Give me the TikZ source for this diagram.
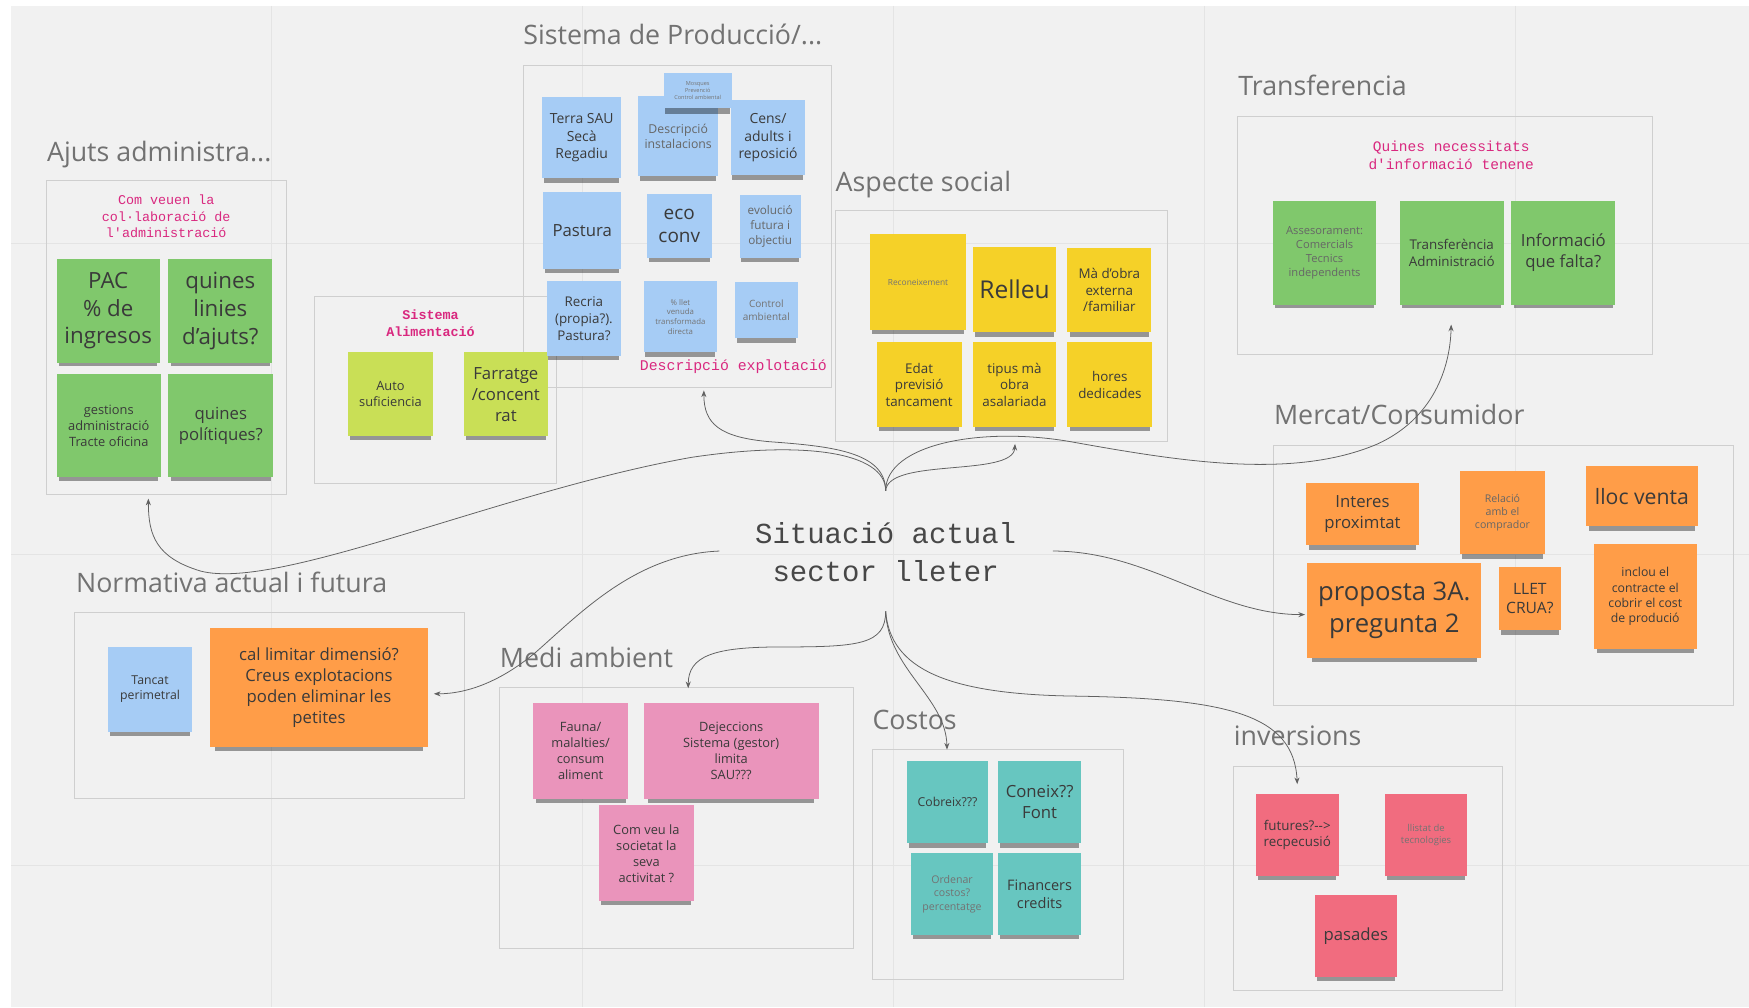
\documentclass[tikz,border=0pt]{standalone}
\usepackage{fontspec}
\setmainfont{Open Sans}
\newfontfamily\monofont{Liberation Mono}
\usetikzlibrary{arrows.meta, shadows}

\definecolor{boardbg}{HTML}{F1F1F1}
\definecolor{gridcol}{HTML}{E4E4E4}
\definecolor{boxline}{HTML}{CFCFCF}
\definecolor{titlecol}{HTML}{727272}
\definecolor{notetxt}{HTML}{3A3A3A}
\definecolor{pinktxt}{HTML}{D9287F}
\definecolor{cGreen}{HTML}{80C86C}
\definecolor{cBlue}{HTML}{A6CCF5}
\definecolor{cYellow}{HTML}{F5D128}
\definecolor{cLime}{HTML}{C9DF56}
\definecolor{cOrange}{HTML}{FF9D48}
\definecolor{cPink}{HTML}{EA94BB}
\definecolor{cTeal}{HTML}{67C6C0}
\definecolor{cRed}{HTML}{F16C7F}

\newcommand\fsz[1]{\fontsize{#1}{\fpeval{1.25*#1}}\selectfont}

\tikzset{
    sticky/.style={inner sep=2pt, align=center, text=notetxt,
        drop shadow={shadow xshift=0pt, shadow yshift=-6pt, shadow scale=0.95, opacity=0.38, fill=black}}, % sticky notes
    wh/.style 2 args={minimum width=#1, minimum height=#2},
    grpbox/.style={draw=boxline, line width=0.8pt}, % group frames
    grptitle/.style={anchor=base west, inner sep=0pt, text=titlecol, font=\fsz{24}},
    pinknote/.style={align=center, text=pinktxt, inner sep=0pt},
    gridline/.style={draw=gridcol, line width=0.8pt},
    conn/.style={draw=black!62, line width=0.7pt, -{Stealth[length=6pt,width=4.5pt]}}, % connectors
}

\begin{document}
\begin{tikzpicture}[x=1pt, y=-1pt]
\useasboundingbox (0,0) rectangle (1568,903);
\fill[boardbg] (10,5) rectangle (1568,903);

% grid of the board
\foreach \gx in {243,522,801,1080,1359}
    \draw[gridline] (\gx,5) -- (\gx,903);
\foreach \gy in {218,497,776}
    \draw[gridline] (10,\gy) -- (1568,\gy);

% group frames
\draw[grpbox] (42,162) rectangle (257,443);
\draw[grpbox] (469,59) rectangle (745,347);
\draw[grpbox] (282,266) rectangle (499,433);
\draw[grpbox] (749,189) rectangle (1047,396);
\draw[grpbox] (1109,104) rectangle (1481,318);
\draw[grpbox] (1142,399) rectangle (1554,632);
\draw[grpbox] (67,549) rectangle (416,716);
\draw[grpbox] (448,616) rectangle (765,850);
\draw[grpbox] (782,672) rectangle (1007,878);
\draw[grpbox] (1106,687) rectangle (1347,888);

% group titles
\node[grptitle] (tAjuts) at (42,145) {Ajuts administra...};
\node[grptitle] (tProd) at (469,40) {Sistema de Producció/...};
\node[grptitle] (tSocial) at (749,172) {Aspecte social};
\node[grptitle] (tTransf) at (1110,86) {Transferencia};
\node[grptitle] (tMercat) at (1142,381) {Mercat/Consumidor};
\node[grptitle] (tNorm) at (68,531) {Normativa actual i futura};
\node[grptitle] (tMedi) at (448,598) {Medi ambient};
\node[grptitle] (tCostos) at (782,654) {Costos};
\node[grptitle] (tInv) at (1106,668) {inversions};

% Ajuts administratius
\node[pinknote, font=\monofont\fsz{12}] (pAjuts) at (149,194) {Com veuen la\\col·laboració de\\l'administració};
\node[sticky, fill=cGreen, wh={92}{93}, font=\fsz{20}] (pac) at (97,278.5) {PAC\\\% de\\ingresos};
\node[sticky, fill=cGreen, wh={93}{93}, font=\fsz{20}] (linies) at (197.5,278.5) {quines\\linies\\d'ajuts?};
\node[sticky, fill=cGreen, wh={93}{93}, font=\fsz{11.5}] (gestions) at (97.5,381.5) {gestions\\administració\\Tracte oficina};
\node[sticky, fill=cGreen, wh={94}{93}, font=\fsz{15}] (politiques) at (198,381.5) {quines\\polítiques?};

% Sistema alimentacio
\node[pinknote, font=\monofont\bfseries\fsz{12}] (pAlim) at (386,290) {Sistema\\Alimentació};
\node[sticky, fill=cLime, wh={76}{75}, font=\fsz{11.5}] (auto) at (350,353.5) {Auto\\suficiencia};
\node[sticky, fill=cLime, wh={75}{75}, font=\fsz{15}] (farratge) at (453.5,353.5) {Farratge\\/concent\\rat};

% Sistema de produccio
\node[sticky, fill=cBlue, wh={71}{73}, font=\fsz{12.5}] (terra) at (521.5,123.5) {Terra SAU\\Secà\\Regadiu};
\node[sticky, fill=cBlue, wh={72}{72}, font=\fsz{11}, text=black!60] (descr) at (608,122) {Descripció\\instalacions};
\node[sticky, fill=cBlue, wh={61}{32}, font=\fsz{5}, text=black!55] (mosques) at (625.5,81) {Mosques\\Prevenció\\Control ambiental};
\node[sticky, fill=cBlue, wh={67}{67}, font=\fsz{12.5}] (cens) at (688.5,123.5) {Cens/\\adults i\\reposició};
\node[sticky, fill=cBlue, wh={70}{69}, font=\fsz{15}] (pastura) at (522,206.5) {Pastura};
\node[sticky, fill=cBlue, wh={58}{57}, font=\fsz{17}] (eco) at (609,202.5) {eco\\conv};
\node[sticky, fill=cBlue, wh={55}{56}, font=\fsz{10.5}, text=black!60] (evol) at (690.5,203) {evolució\\futura i\\objectiu};
\node[sticky, fill=cBlue, wh={67}{67}, font=\fsz{12}] (recria) at (523.5,285.5) {Recria\\(propia?).\\Pastura?};
\node[sticky, fill=cBlue, wh={66}{64}, font=\fsz{7}, text=black!55] (llet) at (610,284) {\% llet\\venuda\\transformada\\directa};
\node[sticky, fill=cBlue, wh={56}{50}, font=\fsz{9}, text=black!55] (control) at (687,278) {Control\\ambiental};
\node[pinknote, font=\monofont\fsz{13.3}] (pProd) at (657.5,329) {Descripció explotació};

% Aspecte social
\node[sticky, fill=cYellow, wh={86}{86}, font=\fsz{7.5}, text=black!55] (recon) at (823,253) {Reconeixement};
\node[sticky, fill=cYellow, wh={75}{77}, font=\fsz{22}] (relleu) at (909.5,259.5) {Relleu};
\node[sticky, fill=cYellow, wh={75}{76}, font=\fsz{12}] (maobra) at (994.5,260) {Mà d'obra\\externa\\/familiar};
\node[sticky, fill=cYellow, wh={76}{76}, font=\fsz{12}] (edat) at (824,345) {Edat\\previsió\\tancament};
\node[sticky, fill=cYellow, wh={75}{76}, font=\fsz{12}] (tipus) at (909.5,345) {tipus mà\\obra\\asalariada};
\node[sticky, fill=cYellow, wh={76}{76}, font=\fsz{12}] (hores) at (995,345) {hores\\dedicades};

% Transferencia
\node[pinknote, font=\monofont\fsz{13}] (pTransf) at (1301,139) {Quines necessitats\\d'informació tenene};
\node[sticky, fill=cGreen, wh={93}{93}, font=\fsz{10}, text=black!60] (asses) at (1187.5,226.5) {Assesorament:\\Comercials\\Tecnics\\independents};
\node[sticky, fill=cGreen, wh={93}{93}, font=\fsz{12}] (transf) at (1301.5,226.5) {Transferència\\Administració};
\node[sticky, fill=cGreen, wh={93}{93}, font=\fsz{15}] (info) at (1401.5,226.5) {Informació\\que falta?};

% Mercat / consumidor
\node[sticky, fill=cOrange, wh={101}{56}, font=\fsz{15}] (interes) at (1221.5,461) {Interes\\proximtat};
\node[sticky, fill=cOrange, wh={76}{75}, font=\fsz{9.5}, text=black!60] (relacio) at (1347,459.5) {Relació\\amb el\\comprador};
\node[sticky, fill=cOrange, wh={100}{54}, font=\fsz{19}] (lloc) at (1472,445) {lloc venta};
\node[sticky, fill=cOrange, wh={156}{85}, font=\fsz{23}] (proposta) at (1250,547.5) {proposta 3A.\\pregunta 2};
\node[sticky, fill=cOrange, wh={55}{57}, font=\fsz{14}] (crua) at (1371.5,536.5) {LLET\\CRUA?};
\node[sticky, fill=cOrange, wh={92}{94}, font=\fsz{11}] (inclou) at (1475,535) {inclou el\\contracte el\\cobrir el cost\\de produció};

% Normativa
\node[sticky, fill=cBlue, wh={75}{76}, font=\fsz{11}] (tancat) at (134.5,618) {Tancat\\perimetral};
\node[sticky, fill=cOrange, wh={196}{107}, font=\fsz{15}] (limitar) at (286,616.5) {cal limitar dimensió?\\Creus explotacions\\poden eliminar les\\petites};

% Medi ambient
\node[sticky, fill=cPink, wh={85}{86}, font=\fsz{11.5}] (fauna) at (520.5,673) {Fauna/\\malalties/\\consum\\aliment};
\node[sticky, fill=cPink, wh={157}{86}, font=\fsz{11.5}] (dejec) at (655.5,673) {Dejeccions\\Sistema (gestor)\\limita\\SAU???};
\node[sticky, fill=cPink, wh={85}{86}, font=\fsz{11.5}] (comveu) at (579.5,765) {Com veu la\\societat la\\seva\\activitat ?};

% Costos
\node[sticky, fill=cTeal, wh={73}{74}, font=\fsz{11}] (cobreix) at (849.5,719) {Cobreix???};
\node[sticky, fill=cTeal, wh={74}{74}, font=\fsz{15}] (coneix) at (932,719) {Coneix??\\Font};
\node[sticky, fill=cTeal, wh={73}{73}, font=\fsz{9.5}, text=black!55] (ordenar) at (853.5,801.5) {Ordenar\\costos?\\percentatge};
\node[sticky, fill=cTeal, wh={74}{73}, font=\fsz{13}] (financers) at (932,801.5) {Financers\\credits};

% inversions
\node[sticky, fill=cRed, wh={74}{73}, font=\fsz{12}] (futures) at (1163,748.5) {futures?-\kern0pt-\kern0pt>\\recpecusió};
\node[sticky, fill=cRed, wh={73}{73}, font=\fsz{8.5}, text=black!55] (llistat) at (1278.5,748.5) {llistat de\\tecnologies};
\node[sticky, fill=cRed, wh={73}{74}, font=\fsz{15}] (pasades) at (1215.5,839) {pasades};

% centre
\node[align=center, text=black!72, font=\monofont\fontsize{26}{34}\selectfont] (sit) at (794,495) {Situació actual\\sector lleter};
\coordinate (sitN) at (794,440);
\coordinate (sitS) at (794,548);
\coordinate (sitW) at (645,494);
\coordinate (sitE) at (944,494);

% ends of the connectors
\coordinate (toAjuts) at (133,447);
\coordinate (toProd) at (631,350);
\coordinate (toSocial) at (910,398);
\coordinate (toTransf) at (1301,291);
\coordinate (toLimit) at (389,622);
\coordinate (toMedi) at (617,617);
\coordinate (toCostos) at (849,672);
\coordinate (toInv) at (1163,703);
\coordinate (toProp) at (1170,551);

% connectors
\draw[conn] (sitN) .. controls (794,405) and (720,395) .. (620,410) .. controls (450,440) and (250,530) .. (180,512) .. controls (140,500) and (133,480) .. (toAjuts);
\draw[conn] (sitN) .. controls (794,405) and (745,400) .. (690,396) .. controls (645,392) and (631,380) .. (toProd);
\draw[conn] (sitN) .. controls (796,410) and (908,428) .. (toSocial);
\draw[conn] (sitN) .. controls (794,398) and (880,382) .. (960,396) .. controls (1060,414) and (1160,430) .. (1235,398) .. controls (1285,375) and (1300,330) .. (toTransf);
\draw[conn] (sitW) .. controls (570,497) and (520,550) .. (480,585) .. controls (450,610) and (420,622) .. (toLimit);
\draw[conn] (sitS) .. controls (794,578) and (770,580) .. (700,580) .. controls (640,580) and (617,588) .. (toMedi);
\draw[conn] (sitS) .. controls (796,600) and (848,625) .. (toCostos);
\draw[conn] (sitS) .. controls (798,600) and (850,622) .. (960,624) .. controls (1100,626) and (1160,640) .. (toInv);
\draw[conn] (sitE) .. controls (1030,494) and (1090,551) .. (toProp);
\end{tikzpicture}
\end{document}
